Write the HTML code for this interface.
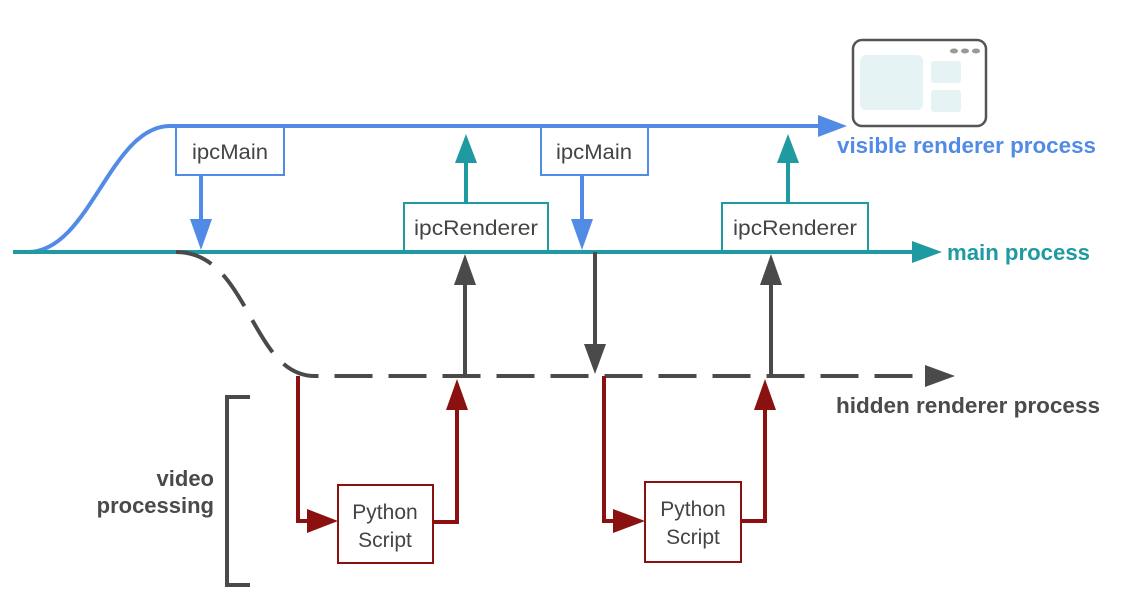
<!DOCTYPE html>
<html><head><style>
body{margin:0;background:#fff;}
svg{display:block}
text{font-family:"Liberation Sans",sans-serif;}
</style></head><body>
<svg width="1136" height="610" viewBox="0 0 1136 610" xmlns="http://www.w3.org/2000/svg">
<!-- window icon -->
<rect x="853" y="40" width="133" height="86" rx="9" fill="#fff" stroke="#555" stroke-width="2.5"/>
<rect x="860" y="55" width="63" height="55" rx="6" fill="#e6f3f5"/>
<rect x="931" y="61" width="30" height="22" rx="3" fill="#e6f3f5"/>
<rect x="931" y="90" width="30" height="22" rx="3" fill="#e6f3f5"/>
<ellipse cx="954" cy="51" rx="4" ry="2.5" fill="#999"/>
<ellipse cx="965" cy="51" rx="4" ry="2.5" fill="#999"/>
<ellipse cx="976" cy="51" rx="4" ry="2.5" fill="#999"/>

<!-- visible renderer line -->
<path d="M28 252 C 90 252, 110 126, 170 126 L 822 126" fill="none" stroke="#528BE6" stroke-width="4"/>
<polygon points="818,115 847,126 818,137" fill="#528BE6"/>
<text x="837" y="153" font-size="22" font-weight="bold" fill="#528BE6" textLength="259" lengthAdjust="spacingAndGlyphs">visible renderer process</text>

<!-- main line -->
<line x1="13" y1="252" x2="915" y2="252" stroke="#1E9AA0" stroke-width="4"/>
<polygon points="912,241 942,252 912,263" fill="#1E9AA0"/>
<text x="947" y="260" font-size="22" font-weight="bold" fill="#1E9AA0" textLength="143" lengthAdjust="spacingAndGlyphs">main process</text>

<!-- hidden renderer dashed -->
<path d="M176 252 C 250 252, 250 376, 315 376 L 930 376" fill="none" stroke="#4a4a4a" stroke-width="4" stroke-dasharray="38,16"/>
<polygon points="925,365 955,376 925,387" fill="#4a4a4a"/>
<text x="836" y="413" font-size="22" font-weight="bold" fill="#4a4a4a" textLength="264" lengthAdjust="spacingAndGlyphs">hidden renderer process</text>

<!-- ipcMain 1 -->
<line x1="201" y1="175" x2="201" y2="225" stroke="#528BE6" stroke-width="4"/>
<polygon points="190,219 212,219 201,250" fill="#528BE6"/>
<rect x="176" y="127" width="108" height="48" fill="#fff" stroke="#528BE6" stroke-width="2"/>
<text x="230" y="159" font-size="21" fill="#444" text-anchor="middle" textLength="76" lengthAdjust="spacingAndGlyphs">ipcMain</text>

<!-- ipcMain 2 -->
<line x1="582" y1="175" x2="582" y2="225" stroke="#528BE6" stroke-width="4"/>
<polygon points="571,219 593,219 582,250" fill="#528BE6"/>
<rect x="541" y="127" width="107" height="48" fill="#fff" stroke="#528BE6" stroke-width="2"/>
<text x="594" y="159" font-size="21" fill="#444" text-anchor="middle" textLength="76" lengthAdjust="spacingAndGlyphs">ipcMain</text>

<!-- ipcRenderer 1 -->
<line x1="466" y1="203" x2="466" y2="160" stroke="#1E9AA0" stroke-width="4"/>
<polygon points="455,163 477,163 466,134" fill="#1E9AA0"/>
<rect x="404" y="203" width="144" height="48" fill="#fff" stroke="#1E9AA0" stroke-width="2"/>
<text x="476" y="235" font-size="21" fill="#444" text-anchor="middle" textLength="124" lengthAdjust="spacingAndGlyphs">ipcRenderer</text>

<!-- ipcRenderer 2 -->
<line x1="788" y1="203" x2="788" y2="160" stroke="#1E9AA0" stroke-width="4"/>
<polygon points="777,163 799,163 788,134" fill="#1E9AA0"/>
<rect x="722" y="203" width="146" height="48" fill="#fff" stroke="#1E9AA0" stroke-width="2"/>
<text x="795" y="235" font-size="21" fill="#444" text-anchor="middle" textLength="124" lengthAdjust="spacingAndGlyphs">ipcRenderer</text>

<!-- gray arrows -->
<line x1="465" y1="376" x2="465" y2="280" stroke="#4a4a4a" stroke-width="4"/>
<polygon points="454,285 476,285 465,254" fill="#4a4a4a"/>
<line x1="771" y1="376" x2="771" y2="280" stroke="#4a4a4a" stroke-width="4"/>
<polygon points="760,285 782,285 771,254" fill="#4a4a4a"/>
<line x1="595" y1="252" x2="595" y2="350" stroke="#4a4a4a" stroke-width="4"/>
<polygon points="584,344 606,344 595,374" fill="#4a4a4a"/>

<!-- red flows 1 -->
<polyline points="298,376 298,521 312,521" fill="none" stroke="#8B1010" stroke-width="4"/>
<polygon points="307,509 338,521 307,533" fill="#8B1010"/>
<polyline points="432,522 457,522 457,405" fill="none" stroke="#8B1010" stroke-width="4"/>
<polygon points="446,410 468,410 457,379" fill="#8B1010"/>
<rect x="338" y="485" width="95" height="78" fill="#fff" stroke="#8B1010" stroke-width="2"/>
<text x="385" y="519" font-size="21" fill="#444" text-anchor="middle">Python</text>
<text x="385" y="547" font-size="21" fill="#444" text-anchor="middle">Script</text>

<!-- red flows 2 -->
<polyline points="604,376 604,521 618,521" fill="none" stroke="#8B1010" stroke-width="4"/>
<polygon points="613,509 645,521 613,533" fill="#8B1010"/>
<polyline points="740,521 765,521 765,405" fill="none" stroke="#8B1010" stroke-width="4"/>
<polygon points="754,410 776,410 765,379" fill="#8B1010"/>
<rect x="645" y="482" width="96" height="80" fill="#fff" stroke="#8B1010" stroke-width="2"/>
<text x="693" y="516" font-size="21" fill="#444" text-anchor="middle">Python</text>
<text x="693" y="544" font-size="21" fill="#444" text-anchor="middle">Script</text>

<!-- bracket -->
<polyline points="250,397 227,397 227,585 250,585" fill="none" stroke="#4a4a4a" stroke-width="4"/>
<text x="214" y="486" font-size="22" font-weight="bold" fill="#4a4a4a" text-anchor="end">video</text>
<text x="214" y="513" font-size="22" font-weight="bold" fill="#4a4a4a" text-anchor="end">processing</text>
</svg>
</body></html>
